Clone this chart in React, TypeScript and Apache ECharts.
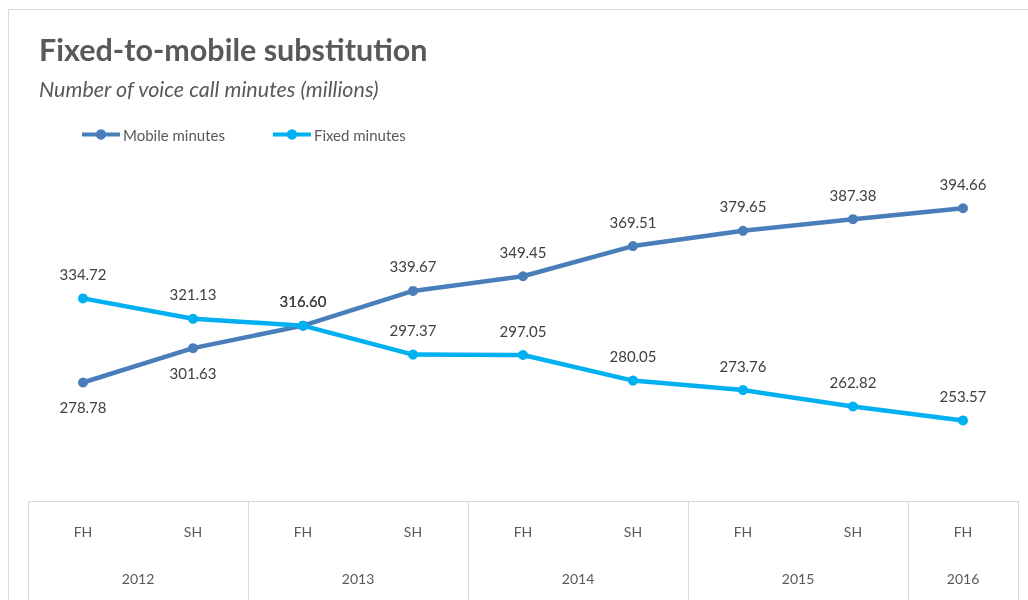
import React, { useEffect, useRef } from "react";
import * as echarts from "echarts";

const halfYears = ["FH", "SH", "FH", "SH", "FH", "SH", "FH", "SH", "FH"];
const years = ["2012", "2013", "2014", "2015", "2016"];
const yearSpans = [2, 2, 2, 2, 1];
const mobileMinutes = [278.78, 301.63, 316.6, 339.67, 349.45, 369.51, 379.65, 387.38, 394.66];
const fixedMinutes = [334.72, 321.13, 316.6, 297.37, 297.05, 280.05, 273.76, 262.82, 253.57];

const FONT = "Lato, 'Open Sans', sans-serif";

export default function App() {
  const ref = useRef<HTMLDivElement>(null);
  useEffect(() => {
    if (!ref.current) return;
    const chart = echarts.init(ref.current, undefined, { renderer: "svg" });
    const boundaries: number[] = [0];
    const centers: number[] = [];
    let acc = 0;
    yearSpans.forEach((s) => {
      centers.push(acc + s / 2);
      acc += s;
      boundaries.push(acc);
    });
    const labelStyle = { show: true, position: "top", distance: 12, fontSize: 15, color: "#404040", fontFamily: FONT, formatter: (p: any) => Number(p.value).toFixed(2) };
    chart.setOption({
      animation: false,
      textStyle: { fontFamily: FONT },
      title: {
        text: "Fixed-to-mobile substitution",
        subtext: "Number of voice call minutes (millions)",
        left: 39,
        top: 33,
        padding: 0,
        itemGap: 14,
        textStyle: { fontSize: 30.5, fontWeight: "bold", color: "#595959", fontFamily: FONT },
        subtextStyle: { fontSize: 21.5, fontStyle: "italic", color: "#595959", fontFamily: FONT },
      },
      legend: {
        left: 75,
        top: 122,
        itemWidth: 38,
        itemHeight: 13,
        itemGap: 46,
        lineStyle: { width: 4 },
        textStyle: { fontSize: 15, color: "#595959", fontFamily: FONT, padding: [0, 0, 0, -2] },
        data: ["Mobile minutes", "Fixed minutes"],
      },
      grid: { left: 28, right: 10, top: 125, bottom: 99 },
      xAxis: [
        {
          type: "category",
          data: halfYears,
          boundaryGap: true,
          axisLine: { show: true, lineStyle: { color: "#d9d9d9", width: 1 } },
          axisTick: { show: false },
          axisLabel: { margin: 23, fontSize: 14, color: "#595959", fontFamily: FONT },
        },
        {
          type: "value",
          min: 0,
          max: halfYears.length,
          position: "bottom",
          offset: 0,
          axisLine: { show: false },
          splitLine: { show: false },
          axisTick: { show: true, customValues: boundaries, length: 99, inside: false, lineStyle: { color: "#d9d9d9", width: 1 } },
          axisLabel: {
            customValues: centers,
            margin: 70,
            fontSize: 14,
            color: "#595959",
            fontFamily: FONT,
            formatter: (v: number) => years[centers.indexOf(v)] ?? "",
          },
        },
      ],
      yAxis: { type: "value", min: 200, max: 450, show: false, splitLine: { show: false } },
      series: [
        {
          name: "Mobile minutes",
          type: "line",
          data: mobileMinutes.map((v, i) => ({ value: v, label: i < 2 ? { position: "bottom" } : undefined })),
          symbol: "circle",
          symbolSize: 10,
          lineStyle: { width: 4.5, color: "#4a7ebb" },
          itemStyle: { color: "#4a7ebb" },
          label: labelStyle,
          z: 2,
        },
        {
          name: "Fixed minutes",
          type: "line",
          data: fixedMinutes,
          symbol: "circle",
          symbolSize: 10,
          lineStyle: { width: 4.5, color: "#00b0f0" },
          itemStyle: { color: "#00b0f0" },
          label: labelStyle,
          z: 3,
        },
      ],
    });
    return () => chart.dispose();
  }, []);
  return (
    <>
      <div ref={ref} style={{ position: "fixed", left: 0, top: 0, width: 1028, height: 600 }} />
      <div
        style={{
          position: "fixed",
          left: 8,
          top: 9,
          width: 1040,
          height: 610,
          borderLeft: "1px solid #d9d9d9",
          borderTop: "1px solid #d9d9d9",
          pointerEvents: "none",
        }}
      />
    </>
  );
}
